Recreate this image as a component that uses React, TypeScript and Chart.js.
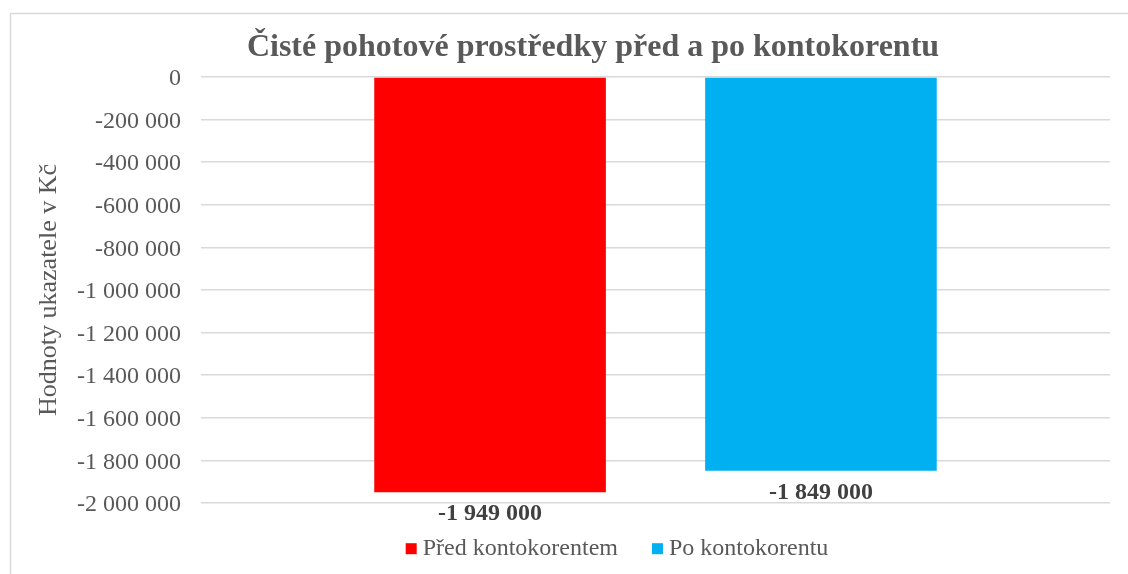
import React, { useEffect, useRef } from 'react';
import { Chart, registerables } from 'chart.js';

Chart.register(...registerables);

const categories = [''];
const seriesNames = ['Před kontokorentem', 'Po kontokorentu'];
const seriesBefore = [-1949000];
const seriesAfter = [-1849000];
const seriesColors = ['#FF0000', '#00B0F0'];
const yTickValues = [0, -200000, -400000, -600000, -800000, -1000000, -1200000, -1400000, -1600000, -1800000, -2000000];
const chartTitle = 'Čisté pohotové prostředky před a po kontokorentu';
const yAxisTitle = 'Hodnoty ukazatele v Kč';

const FONT = '"Liberation Serif", "Times New Roman", serif';
const TEXT = '#595959';

function fmt(v: number): string {
  const s = String(Math.abs(Math.round(v))).replace(/\B(?=(\d{3})+(?!\d))/g, ' ');
  return (v < 0 ? '-' : '') + s;
}

const framePlugin = {
  id: 'frame',
  beforeDraw(chart: any) {
    const { ctx, width, height } = chart;
    ctx.save();
    ctx.fillStyle = '#ffffff';
    ctx.fillRect(0, 0, width, height);
    ctx.strokeStyle = '#d9d9d9';
    ctx.lineWidth = 1.5;
    ctx.strokeRect(10.5, 13.5, width + 20, height + 20);
    ctx.restore();
  },
};

const titlePlugin = {
  id: 'customTitle',
  afterDraw(chart: any) {
    const { ctx } = chart;
    ctx.save();
    ctx.font = `bold 32px ${FONT}`;
    ctx.fillStyle = TEXT;
    ctx.textAlign = 'center';
    ctx.textBaseline = 'middle';
    ctx.fillText(chartTitle, 593, 48);
    ctx.restore();
  },
};

const dataLabelPlugin = {
  id: 'dataLabels',
  afterDatasetsDraw(chart: any) {
    const { ctx } = chart;
    ctx.save();
    ctx.font = `bold 24px ${FONT}`;
    ctx.fillStyle = '#404040';
    ctx.textAlign = 'center';
    ctx.textBaseline = 'middle';
    chart.data.datasets.forEach((ds: any, i: number) => {
      const meta = chart.getDatasetMeta(i);
      meta.data.forEach((bar: any, j: number) => {
        ctx.fillText(fmt(ds.data[j]), bar.x, bar.y + 22);
      });
    });
    ctx.restore();
  },
};

const legendPlugin = {
  id: 'customLegend',
  afterDraw(chart: any) {
    const { ctx } = chart;
    ctx.save();
    ctx.font = `24px ${FONT}`;
    ctx.textBaseline = 'middle';
    ctx.textAlign = 'left';
    const box = 11;
    const gap = 6;
    const itemGap = 34;
    const items = chart.data.datasets.map((ds: any) => ({
      label: ds.label,
      color: ds.backgroundColor,
      w: ctx.measureText(ds.label).width,
    }));
    const total = items.reduce((a: number, it: any) => a + box + gap + it.w, 0) + itemGap * (items.length - 1);
    let x = 617 - total / 2;
    const cy = 548.7;
    items.forEach((it: any) => {
      ctx.fillStyle = it.color;
      ctx.fillRect(x, cy - box / 2, box, box);
      x += box + gap;
      ctx.fillStyle = TEXT;
      ctx.fillText(it.label, x, cy);
      x += it.w + itemGap;
    });
    ctx.restore();
  },
};

export default function App() {
  const ref = useRef<HTMLCanvasElement | null>(null);

  useEffect(() => {
    if (!ref.current) return;
    const chart = new Chart(ref.current, {
      type: 'bar',
      data: {
        labels: categories,
        datasets: [
          {
            label: seriesNames[0],
            data: seriesBefore,
            backgroundColor: seriesColors[0],
            borderWidth: 0,
            categoryPercentage: 0.728,
            barPercentage: 0.7,
          },
          {
            label: seriesNames[1],
            data: seriesAfter,
            backgroundColor: seriesColors[1],
            borderWidth: 0,
            categoryPercentage: 0.728,
            barPercentage: 0.7,
          },
        ],
      },
      options: {
        animation: false,
        responsive: false,
        maintainAspectRatio: false,
        layout: { padding: { left: 10, right: 18, top: 77, bottom: 0 } },
        plugins: {
          legend: { display: false },
          title: { display: false },
          tooltip: { enabled: false },
        },
        scales: {
          x: {
            display: true,
            grid: { display: false },
            border: { display: false },
            ticks: { display: false },
            afterFit(scale: any) {
              scale.height = 71;
            },
          },
          y: {
            min: yTickValues[yTickValues.length - 1],
            max: yTickValues[0],
            afterBuildTicks(scale: any) {
              scale.ticks = yTickValues.map((v) => ({ value: v }));
            },
            grid: { color: '#d9d9d9', lineWidth: 1.5, drawTicks: false },
            border: { display: false },
            ticks: {
              padding: 20,
              labelOffset: 2,
              color: TEXT,
              font: { family: FONT, size: 24 },
              callback: (v: any) => fmt(Number(v)),
            },
            title: {
              display: true,
              text: yAxisTitle,
              color: TEXT,
              font: { family: FONT, size: 26 },
              padding: { top: 24, bottom: 0 },
            },
            afterFit(scale: any) {
              scale.width = 191;
            },
          },
        },
      },
      plugins: [framePlugin, titlePlugin, dataLabelPlugin, legendPlugin],
    });
    return () => chart.destroy();
  }, []);

  return (
    <div style={{ position: 'fixed', left: 0, top: 0, width: 1128, height: 574, background: '#fff' }}>
      <canvas ref={ref} width={1128} height={574} style={{ display: 'block', width: 1128, height: 574 }} />
    </div>
  );
}
